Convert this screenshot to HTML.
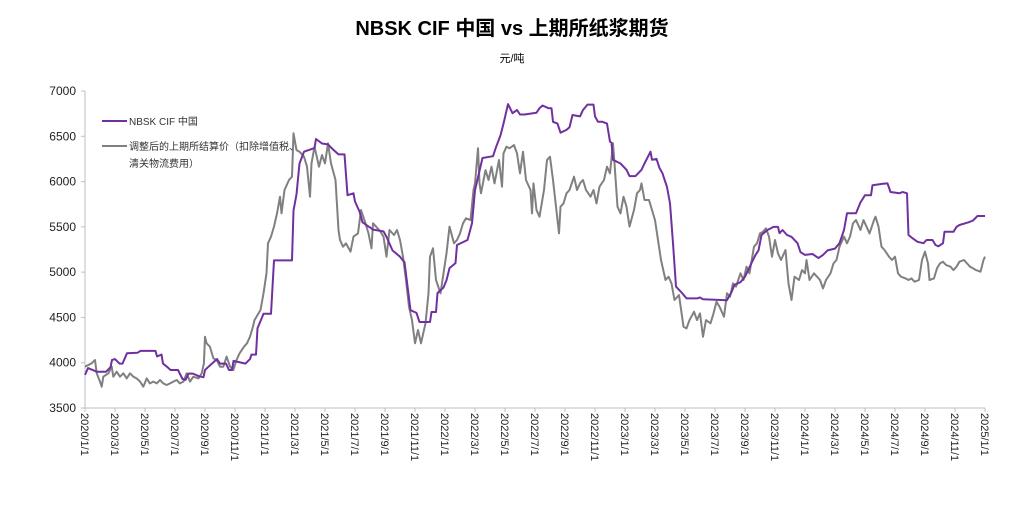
<!DOCTYPE html>
<html><head><meta charset="utf-8"><style>
body{margin:0;background:#fff;width:1024px;height:503px;overflow:hidden;font-family:"Liberation Sans","Noto Sans CJK SC",sans-serif;}
</style></head><body>
<svg id="chart" width="1024" height="503" xmlns="http://www.w3.org/2000/svg" style="font-family:'Liberation Sans','Noto Sans CJK SC',sans-serif">
<text x="512" y="35" text-anchor="middle" font-size="20" font-weight="bold" fill="#000">NBSK CIF 中国 vs 上期所纸浆期货</text>
<text x="512" y="62" text-anchor="middle" font-size="11" fill="#000">元/吨</text>
<g id="axes"></g>
<g id="series"></g>
<g>
<line x1="102" y1="121" x2="127" y2="121" stroke="#7030A0" stroke-width="2"/>
<text x="129" y="125" font-size="10" fill="#333">NBSK CIF 中国</text>
<line x1="102" y1="146" x2="127" y2="146" stroke="#808080" stroke-width="2"/>
<text x="129" y="150" font-size="10" fill="#333">调整后的上期所结算价（扣除增值税、</text>
<text x="129" y="167" font-size="10" fill="#333">清关物流费用）</text>
</g>
</svg>
<script>
const yTicks=[3500,4000,4500,5000,5500,6000,6500,7000];
const xTickLabels=["2020/1/1","2020/3/1","2020/5/1","2020/7/1","2020/9/1","2020/11/1","2021/1/1","2021/3/1","2021/5/1","2021/7/1","2021/9/1","2021/11/1","2022/1/1","2022/3/1","2022/5/1","2022/7/1","2022/9/1","2022/11/1","2023/1/1","2023/3/1","2023/5/1","2023/7/1","2023/9/1","2023/11/1","2024/1/1","2024/3/1","2024/5/1","2024/7/1","2024/9/1","2024/11/1","2025/1/1"];
const xTickMonths=[0,2,4,6,8,10,12,14,16,18,20,22,24,26,28,30,32,34,36,38,40,42,44,46,48,50,52,54,56,58,60];
// series points: [month offset from 2020/1/1, value]
const nbskPoints=[[0,3865],[0.2,3940],[0.8,3900],[1.4,3900],[1.7,3950],[1.8,4030],[2.0,4040],[2.3,3990],[2.5,3990],[2.8,4105],[3.5,4110],[3.7,4130],[4.7,4130],[4.8,4070],[5.1,4090],[5.2,3990],[5.5,3950],[5.7,3920],[6.2,3920],[6.5,3820],[6.7,3810],[6.9,3880],[7.2,3880],[7.6,3850],[7.9,3840],[8.0,3920],[8.2,3950],[8.6,4010],[8.8,4040],[9.0,3990],[9.4,3990],[9.6,3920],[9.8,3920],[9.9,4020],[10.7,3990],[11.0,4040],[11.1,4090],[11.4,4090],[11.5,4380],[11.7,4460],[11.9,4540],[12.4,4540],[12.6,5130],[13.8,5130],[13.9,5680],[14.1,5860],[14.3,6200],[14.6,6330],[15.3,6370],[15.4,6470],[15.8,6420],[16.2,6410],[16.5,6360],[16.9,6300],[17.3,6300],[17.5,5850],[17.9,5870],[18.0,5780],[18.3,5670],[18.5,5550],[19.2,5470],[19.9,5450],[20.1,5390],[20.5,5240],[21,5170],[21.3,5110],[21.7,4580],[22.1,4550],[22.3,4450],[23,4450],[23.1,4560],[23.4,4560],[23.5,4770],[23.9,4830],[24.1,4910],[24.3,5045],[24.7,5100],[24.8,5300],[25.5,5355],[25.8,5540],[26,5905],[26.5,6260],[27.2,6280],[27.4,6380],[27.7,6510],[27.9,6640],[28.2,6855],[28.5,6755],[28.8,6790],[29,6740],[29.3,6740],[30.1,6760],[30.3,6810],[30.5,6840],[30.9,6810],[31.1,6810],[31.2,6660],[31.5,6640],[31.7,6540],[32.1,6570],[32.3,6600],[32.5,6735],[33,6720],[33.2,6790],[33.5,6850],[33.9,6850],[34,6720],[34.2,6660],[34.5,6660],[34.8,6640],[35,6440],[35.1,6430],[35.2,6240],[35.7,6200],[36.1,6130],[36.3,6060],[36.7,6060],[37.1,6130],[37.3,6200],[37.7,6330],[37.8,6240],[38.1,6250],[38.3,6150],[38.5,6090],[38.8,5940],[39.0,5760],[39.2,5320],[39.4,4840],[39.8,4770],[40.1,4710],[40.8,4710],[41,4720],[41.2,4700],[42.8,4690],[43.1,4780],[43.3,4860],[43.7,4890],[44,4950],[44.3,5055],[44.7,5190],[44.9,5240],[45.1,5410],[45.5,5465],[45.9,5500],[46.2,5500],[46.3,5430],[46.5,5465],[46.8,5410],[47.1,5390],[47.5,5320],[47.7,5220],[48,5190],[48.5,5200],[48.9,5155],[49.2,5190],[49.5,5240],[50,5260],[50.3,5320],[50.6,5465],[50.8,5650],[51.4,5650],[51.7,5770],[52,5850],[52.4,5850],[52.5,5960],[53.2,5975],[53.5,5980],[53.7,5885],[54.3,5870],[54.5,5885],[54.8,5870],[54.9,5410],[55.2,5370],[55.5,5335],[55.9,5320],[56.1,5355],[56.5,5355],[56.7,5300],[56.9,5285],[57.2,5320],[57.3,5445],[57.9,5445],[58.1,5500],[58.3,5520],[58.9,5550],[59.2,5570],[59.5,5620],[60,5620]];
const shfePoints=[[0,3956],[0.22,3975],[0.44,3993],[0.67,4030],[0.78,3883],[1.0,3791],[1.11,3735],[1.22,3846],[1.56,3883],[1.78,3956],[1.89,3846],[2.11,3901],[2.33,3846],[2.56,3883],[2.78,3827],[3.0,3883],[3.22,3846],[3.44,3827],[3.67,3791],[3.89,3735],[4.11,3827],[4.33,3772],[4.56,3791],[4.78,3772],[5.0,3809],[5.22,3772],[5.44,3754],[5.67,3772],[5.89,3791],[6.11,3809],[6.33,3772],[6.56,3791],[6.78,3883],[7.0,3791],[7.22,3846],[7.56,3827],[7.78,3883],[7.93,3993],[8.0,4287],[8.11,4214],[8.33,4177],[8.56,4048],[8.78,4030],[9.0,3956],[9.22,3956],[9.44,4067],[9.67,3956],[9.89,3919],[10.1,4030],[10.3,4103],[10.6,4177],[10.8,4214],[11.0,4287],[11.2,4400],[11.3,4471],[11.7,4582],[11.9,4766],[12.1,4987],[12.2,5318],[12.4,5392],[12.6,5503],[12.8,5649],[13.0,5833],[13.1,5649],[13.3,5907],[13.6,6017],[13.8,6054],[13.9,6533],[14.1,6348],[14.3,6330],[14.6,6275],[14.8,6164],[15.0,5833],[15.1,6201],[15.3,6385],[15.6,6164],[15.8,6293],[16.0,6201],[16.2,6422],[16.4,6201],[16.7,6017],[16.9,5465],[17.0,5355],[17.2,5281],[17.4,5318],[17.7,5226],[17.9,5392],[18.2,5428],[18.4,5686],[18.7,5539],[18.9,5428],[19.1,5263],[19.2,5539],[19.4,5503],[19.7,5447],[19.9,5392],[20.1,5171],[20.3,5465],[20.6,5410],[20.8,5465],[21,5355],[21.2,5171],[21.4,4913],[21.6,4619],[21.8,4471],[22,4214],[22.2,4361],[22.4,4214],[22.7,4435],[22.9,4766],[23,5171],[23.2,5263],[23.4,4913],[23.7,4766],[23.9,4987],[24.1,5207],[24.3,5503],[24.6,5318],[24.8,5355],[25,5428],[25.2,5539],[25.4,5594],[25.7,5575],[25.9,5907],[26,5980],[26.2,6367],[26.3,5980],[26.4,5870],[26.7,6127],[26.9,6017],[27.1,6164],[27.3,5980],[27.6,6238],[27.8,5943],[27.9,6311],[28.1,6385],[28.3,6367],[28.6,6403],[28.8,6311],[29,6091],[29.2,6330],[29.4,6017],[29.7,5907],[29.8,5649],[29.9,5980],[30.1,5686],[30.3,5612],[30.6,5907],[30.8,6238],[31,6275],[31.2,6017],[31.4,5723],[31.6,5428],[31.7,5723],[31.9,5759],[32.1,5870],[32.3,5907],[32.6,6054],[32.8,5907],[33,5980],[33.2,6017],[33.4,5907],[33.7,5833],[33.9,5907],[34.1,5759],[34.3,5943],[34.6,6017],[34.8,6164],[35,6091],[35.2,6422],[35.3,6201],[35.5,5723],[35.7,5649],[35.9,5833],[36.1,5723],[36.3,5503],[36.6,5686],[36.8,5870],[37,5907],[37.1,5980],[37.3,5796],[37.6,5796],[37.8,5686],[38,5575],[38.2,5355],[38.4,5134],[38.7,4913],[38.9,4950],[39.1,4876],[39.3,4692],[39.6,4747],[39.9,4398],[40.1,4379],[40.3,4471],[40.6,4563],[40.8,4471],[41,4545],[41.2,4287],[41.4,4471],[41.7,4435],[41.9,4545],[42.1,4674],[42.3,4619],[42.6,4508],[42.8,4766],[43,4729],[43.2,4876],[43.4,4840],[43.7,4987],[43.9,4913],[44.1,5061],[44.3,4987],[44.6,5281],[44.8,5318],[45,5428],[45.2,5447],[45.4,5484],[45.6,5392],[45.8,5171],[46,5355],[46.2,5207],[46.4,5134],[46.7,5244],[46.9,4876],[47.1,4692],[47.3,4950],[47.6,4913],[47.8,5023],[48,4987],[48.1,5134],[48.3,4913],[48.6,4987],[48.8,4950],[49,4913],[49.2,4821],[49.4,4913],[49.7,4987],[49.9,5097],[50.1,5134],[50.3,5281],[50.6,5392],[50.8,5318],[51,5392],[51.2,5539],[51.4,5575],[51.7,5465],[51.9,5575],[52.1,5503],[52.3,5428],[52.6,5575],[52.7,5612],[52.9,5503],[53.1,5281],[53.3,5244],[53.6,5171],[53.8,5134],[54,5171],[54.2,4987],[54.4,4950],[54.7,4931],[54.9,4913],[55.1,4931],[55.3,4895],[55.6,4913],[55.8,5134],[56,5226],[56.2,5097],[56.3,4913],[56.6,4931],[56.8,5042],[57,5097],[57.2,5115],[57.4,5079],[57.7,5060],[57.9,5023],[58.1,5060],[58.3,5115],[58.6,5134],[58.8,5097],[59,5060],[59.2,5042],[59.4,5023],[59.7,5005],[59.9,5134],[60,5171]];

const NS="http://www.w3.org/2000/svg";
const X0=85,X1=985,Y0=408,Y1=91,YMIN=3500,YMAX=7000,MMAX=60;
function xScale(m){return X0+(X1-X0)*m/MMAX;}
function yScale(v){return Y0-(Y0-Y1)*(v-YMIN)/(YMAX-YMIN);}
function mk(tag,attrs){const e=document.createElementNS(NS,tag);for(const k in attrs)e.setAttribute(k,attrs[k]);return e;}
const axes=document.getElementById('axes');
const yAxis=mk('line',{x1:X0,y1:Y1,x2:X0,y2:Y0,stroke:'#bfbfbf','stroke-width':1});


axes.appendChild(yAxis);
const xAxis=mk('line',{x1:X0,y1:Y0,x2:X1,y2:Y0,stroke:'#bfbfbf','stroke-width':1});


axes.appendChild(xAxis);
yTicks.forEach(v=>{
  const y=yScale(v);
  const t=mk('line',{x1:X0-4,y1:y,x2:X0,y2:y,stroke:'#bfbfbf'});
  
  
  axes.appendChild(t);
  const l=mk('text',{x:X0-9,y:y+4,'text-anchor':'end','font-size':12,fill:'#222'});
  
  
  l.textContent=v;axes.appendChild(l);
});
xTickMonths.forEach((m,i)=>{
  const x=xScale(m);
  const t=mk('line',{x1:x,y1:Y0,x2:x,y2:Y0+4,stroke:'#bfbfbf'});
  
  
  axes.appendChild(t);
  const l=mk('text',{x:0,y:0,'font-size':11,fill:'#222',transform:`translate(${x-4},${Y0+5}) rotate(90)`});
  
  
  l.textContent=xTickLabels[i];axes.appendChild(l);
});
const series=document.getElementById('series');
function drawLine(pts,color,name){
  const d=pts.map((p,i)=>(i?'L':'M')+xScale(p[0]).toFixed(1)+' '+yScale(p[1]).toFixed(1)).join(' ');
  const path=mk('path',{d:d,fill:'none',stroke:color,'stroke-width':2,'stroke-linejoin':'round'});
  
  
  series.appendChild(path);
}
drawLine(shfePoints,'#808080','shfe-adjusted-line');
drawLine(nbskPoints,'#7030A0','nbsk-cif-china-line');
</script>
</body></html>
